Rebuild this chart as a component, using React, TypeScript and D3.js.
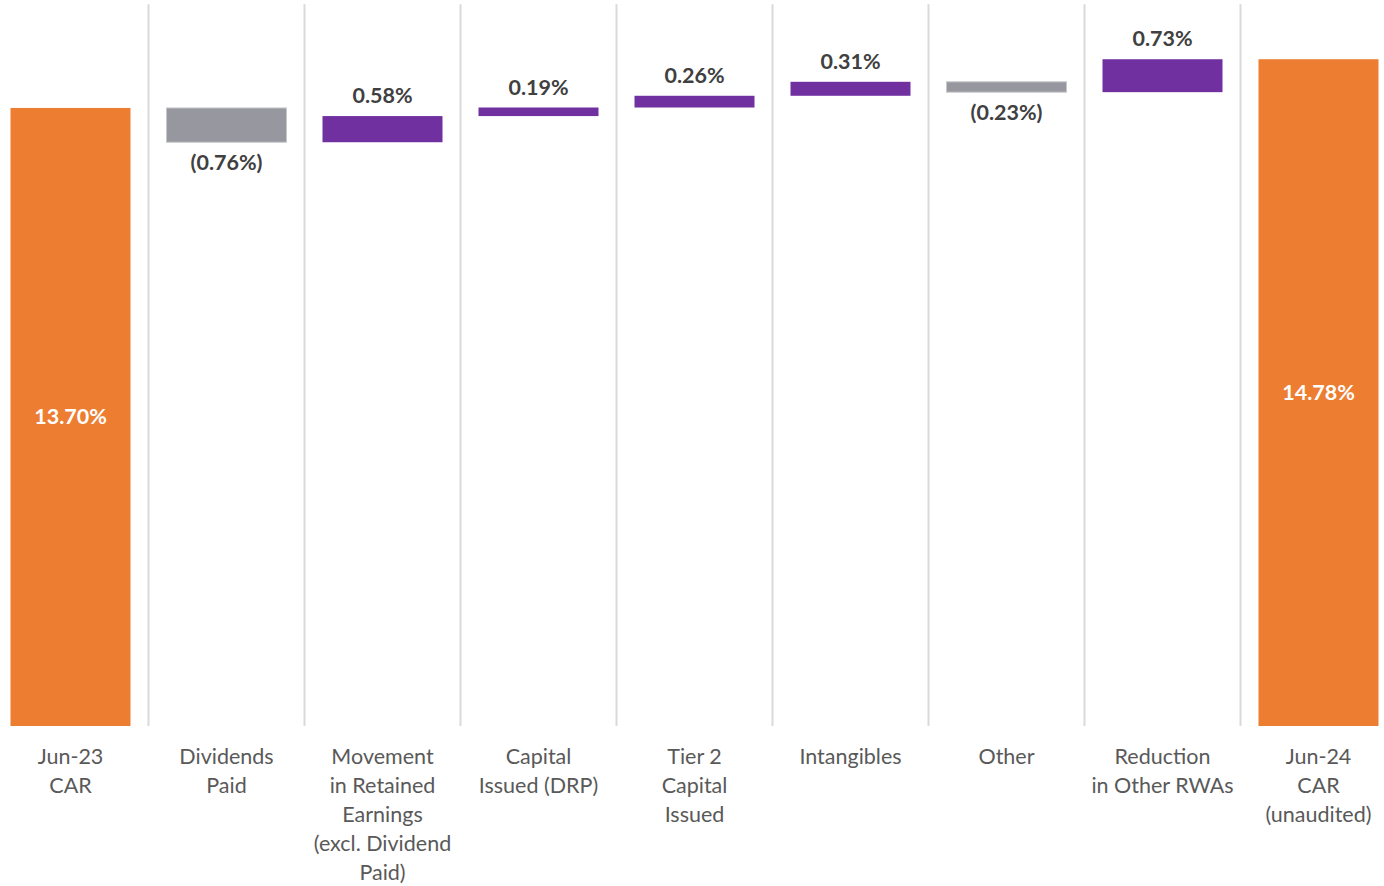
import React from "react";
import * as d3 from "d3";

const categories: string[][] = [
  ["Jun-23", "CAR"],
  ["Dividends", "Paid"],
  ["Movement", "in Retained", "Earnings", "(excl. Dividend", "Paid)"],
  ["Capital", "Issued (DRP)"],
  ["Tier 2", "Capital", "Issued"],
  ["Intangibles"],
  ["Other"],
  ["Reduction", "in Other RWAs"],
  ["Jun-24", "CAR", "(unaudited)"],
];
const values: number[] = [13.7, -0.76, 0.58, 0.19, 0.26, 0.31, -0.23, 0.73, 14.78];
const isTotal: boolean[] = [true, false, false, false, false, false, false, false, true];

const W = 1384;
const H = 886;
const FONT = "Lato, 'Open Sans', sans-serif";
const FS = 21.5;

export default function App() {
  const ids = categories.map((_, i) => String(i));
  const x = d3.scaleBand<string>().domain(ids).range([-7.5, 1396.5]).padding(0);
  const y = d3.scaleLinear().domain([0, 16]).range([726, 4.2]);
  const bw = x.bandwidth();
  const barW = bw * (120 / 156);

  let run = 0;
  const bars = values.map((v, i) => {
    let lo: number, hi: number;
    if (isTotal[i]) {
      lo = 0;
      hi = v;
      run = v;
    } else {
      lo = Math.min(run, run + v);
      hi = Math.max(run, run + v);
      run = run + v;
    }
    return { i, v, lo, hi };
  });

  const fmt = (v: number) => (v < 0 ? `(${Math.abs(v).toFixed(2)}%)` : `${v.toFixed(2)}%`);
  const color = (b: { i: number; v: number }) =>
    isTotal[b.i] ? "#ED7D31" : b.v < 0 ? "#97979F" : "#7030A0";

  return (
    <svg width={W} height={H} style={{ position: "absolute", left: 0, top: 0 }}>
      <rect width={W} height={H} fill="#fff" />
      {ids.slice(1).map((id) => (
        <line
          key={"g" + id}
          x1={x(id)!}
          x2={x(id)!}
          y1={y(16)}
          y2={y(0)}
          stroke="#D9D9D9"
          strokeWidth={2}
        />
      ))}
      {bars.map((b) => {
        const cx = x(String(b.i))! + bw / 2;
        const top = y(b.hi);
        const bot = y(b.lo);
        return (
          <g key={"b" + b.i}>
            <rect
              x={cx - barW / 2}
              y={top}
              width={barW}
              height={bot - top}
              fill={color(b)}
              stroke={!isTotal[b.i] && b.v < 0 ? "#C8C8CC" : "none"}
              strokeWidth={1}
            />
            {isTotal[b.i] ? (
              <text
                x={cx}
                y={(top + bot) / 2 + 7.5}
                textAnchor="middle"
                fontFamily={FONT}
                fontWeight="bold"
                fontSize={FS}
                fill="#fff"
              >
                {fmt(b.v)}
              </text>
            ) : b.v < 0 ? (
              <text
                x={cx}
                y={bot + 28}
                textAnchor="middle"
                fontFamily={FONT}
                fontWeight="bold"
                fontSize={FS}
                fill="#404040"
              >
                {fmt(b.v)}
              </text>
            ) : (
              <text
                x={cx}
                y={top - 13}
                textAnchor="middle"
                fontFamily={FONT}
                fontWeight="bold"
                fontSize={FS}
                fill="#404040"
              >
                {fmt(b.v)}
              </text>
            )}
            <text
              textAnchor="middle"
              fontFamily={FONT}
              fontSize={FS}
              fill="#595959"
            >
              {categories[b.i].map((line, k) => (
                <tspan key={k} x={cx} y={764 + k * 29}>
                  {line}
                </tspan>
              ))}
            </text>
          </g>
        );
      })}
    </svg>
  );
}
